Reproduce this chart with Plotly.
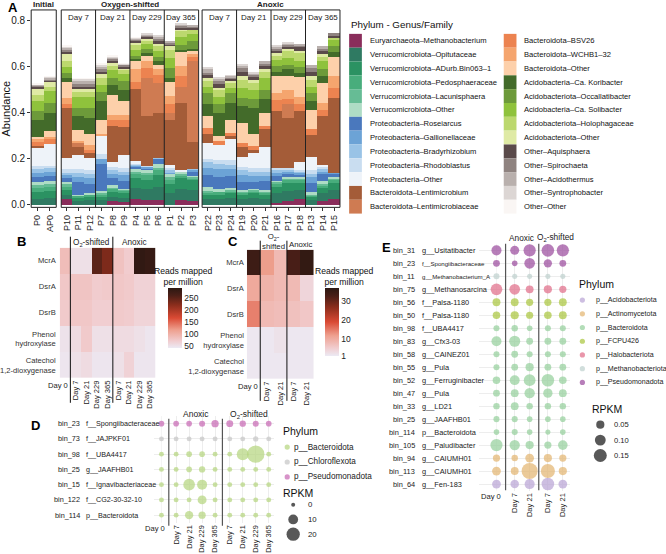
import math
import plotly.graph_objects as go

W, H = 666, 554
FONT = "Liberation Sans"

# ---------------- Panel A data ----------------
samples_initial = ["P0", "AP0"]
samples_oxic = ["P10", "P11", "P12", "P7", "P8", "P9", "P4", "P5", "P6", "P1", "P2", "P3"]
samples_anoxic = ["P22", "P23", "P24", "P19", "P20", "P21", "P16", "P17", "P18", "P13", "P14", "P15"]
day_labels_a = ["Day 7", "Day 21", "Day 229", "Day 365"]

taxa = [
    "Euryarchaeota–Methanobacterium", "Verrucomicrobiota–Opitutaceae", "Verrucomicrobiota–ADurb.Bin063–1",
    "Verrucomicrobiota–Pedosphaeraceae", "Verrucomicrobiota–Lacunisphaera", "Verrucomicrobiota–Other",
    "Proteobacteria–Roseiarcus", "Proteobacteria–Gallionellaceae", "Proteobacteria–Bradyrhizobium",
    "Proteobacteria–Rhodoblastus", "Proteobacteria–Other", "Bacteroidota–Lentimicrobium",
    "Bacteroidota–Lentimicrobiaceae", "Bacteroidota–BSV26", "Bacteroidota–WCHB1–32", "Bacteroidota–Other",
    "Acidobacteria–Ca. Koribacter", "Acidobacteriota–Occallatibacter", "Acidobacteria–Ca. Solibacter",
    "Acidobacteriota–Holophagaceae", "Acidobacteriota–Other", "Other–Aquisphaera", "Other–Spirochaeta",
    "Other–Acidothermus", "Other–Syntrophobacter", "Other–Other",
]
taxa_colors = [
    "#8a2d5b", "#2f7a62", "#2b9262", "#48ad7c", "#66bc95", "#aedcc5",
    "#4a78bd", "#6ca3d6", "#99c3e6", "#c9ddf0", "#eef3f9", "#a45c38",
    "#cf7b52", "#ec8350", "#f5a56e", "#fdd0aa",
    "#436b2a", "#6d9a3a", "#8fc23c", "#bcd86e", "#dfeaa5",
    "#5a4a4a", "#8f8380", "#b9b0ad", "#dcd6d4", "#faf6f4",
]

# order: P0 AP0 | P10 P11 P12 P7 P8 P9 P4 P5 P6 P1 P2 P3 | P22 P23 P24 P19 P20 P21 P16 P17 P18 P13 P14 P15
methanobacterium = [0, 0, .025, 0, 0, 0, .015, .012, .025, .02, .02, 0, .02, .017, 0, 0, 0, 0, 0, 0, .01, .015, .025, 0, .015, .025]
opitutaceae = [.025, .03, .02, .015, .02, .02, .02, .02, .05, .05, .06, .05, .05, .05, .025, .025, .03, .025, .03, .025, .04, .045, .04, .02, .035, .04]
adurb_bin063 = [.03, .03, .02, .015, .015, .015, .02, .02, .04, .04, .05, .04, .045, .04, .02, .02, .02, .02, .02, .02, .03, .035, .03, .015, .025, .03]
pedosphaeraceae = [.02, .02, .015, .01, .01, .01, .015, .01, .02, .02, .02, .02, .015, .01, .01, .01, .01, .01, .01, .01, .015, .015, .015, .005, .01, .015]
lacunisphaera = [.01, .01, .01, 0, 0, .005, .005, .003, .01, .01, .01, .01, .005, .005, .005, 0, .005, .005, .005, .005, .005, .005, .005, .005, .005, .005]
verruco_other = [.015, .015, .01, .005, .005, .01, .01, .005, .01, .015, .02, .015, .01, .005, .02, .015, .01, .005, .005, .005, .005, .005, .005, .01, .015, .005]
roseiarcus = [.02, .02, .015, .055, .04, .12, .03, .035, .01, .005, .02, 0, 0, .02, .05, .05, .05, .035, .03, .04, .02, .015, .01, .04, .03, .015]
gallionellaceae = [.02, .02, .015, .02, .025, .02, .02, .025, .005, .005, .003, .005, 0, .005, .03, .035, .03, .03, .025, .02, .015, .01, .01, .025, .01, .005]
bradyrhizobium = [.015, .015, .01, .02, .02, 0, .015, .015, .005, .003, .002, .01, 0, .003, .025, .025, .02, .02, .02, .02, .01, .01, .005, .015, .01, 0]
rhodoblastus = [.015, .01, .015, .015, .015, .02, .015, .015, .005, .002, 0, .01, 0, 0, .015, .015, .02, .015, .015, .015, .01, .005, .005, .015, .01, 0]
proteo_other = [.08, .095, .05, .06, .055, .08, .02, .055, .01, 0, 0, .015, .005, 0, .07, .065, .09, .045, .065, .09, 0, 0, .035, .06, .01, 0]
lentimicrobium = [.005, 0, .215, .035, .02, 0, .16, .125, .315, .215, .195, .195, .295, .12, .04, 0, .015, .04, .015, .08, .25, .22, .225, .095, .21, .325]
lentimicrobiaceae = [0, 0, 0, .02, 0, 0, 0, 0, 0, .165, .13, .03, .07, .35, 0, 0, 0, 0, 0, 0, 0, .06, 0, 0, 0, 0]
bsv26 = [.02, .02, .02, 0, .015, 0, .025, .03, .03, .045, .035, .04, .045, .02, .025, .02, .015, .02, .015, .015, .045, .02, .03, .025, .03, .045]
wchb1_32 = [.01, .01, .025, .01, .02, .01, .02, .02, .055, .03, .025, .035, .045, .01, 0, 0, 0, 0, 0, 0, .03, .04, .03, 0, .03, .05]
bacteroidota_other = [.01, .025, .07, .045, .05, .06, .09, .06, .035, .025, .02, .06, .06, .015, .05, .02, .055, .085, .055, .055, .075, .06, .085, .085, .085, .085]
koribacter = [.075, .08, .015, .06, .07, .08, .04, .05, .01, .01, .015, .015, .01, .01, .055, .10, .075, .075, .11, .06, .02, .03, .02, .035, .03, .02]
occallatibacter = [.04, .045, .025, .035, .04, .04, .03, .04, .015, .02, .02, .045, .02, .035, .045, .04, .04, .035, .04, .04, .025, .02, .025, .035, .03, .025]
solibacter = [.04, .05, .025, .05, .05, .03, .035, .03, .025, .02, .025, .045, .035, .03, .03, .03, .025, .045, .04, .05, .025, .03, .025, .03, .035, .03]
holophagaceae = [.03, .02, .025, .02, .02, .03, .02, .015, .02, .015, .02, .035, .025, .015, .022, .03, .02, .035, .03, .03, .02, .03, .035, .03, .02, .005]
acido_other = [.025, .02, .03, .015, .015, .02, .015, .01, .01, .01, .01, .015, .01, 0, .013, .01, .01, .015, .015, .01, .01, .01, .01, .015, .01, 0]
aquisphaera = [.008, .005, .01, .012, .012, .01, .008, .008, .01, .008, .015, .01, .008, .01, .015, .018, .01, .02, .012, .015, .01, .01, .015, .02, .015, .01]
spirochaeta = [.006, .005, .01, .008, .008, .01, .008, .006, .005, .006, .01, .006, .008, .008, .01, .012, .006, .015, .01, .012, .01, .008, .01, .015, .012, .015]
acidothermus = [.004, .008, .008, .015, .015, .01, .006, .004, .005, .004, .007, .004, .006, .002, .015, .01, .006, .01, .006, .008, .008, .006, .005, .013, .008, 0]
syntrophobacter = [.003, .005, .007, .008, .008, .01, .004, .002, .003, .002, .003, 0, .003, 0, .01, .005, .003, .005, .002, 0, .007, .002, 0, 0, 0, 0]
other_other = [.003, .002, .005, .002, .002, .005, .002, .002, .002, 0, 0, 0, 0, 0, 0, 0, 0, 0, 0, 0, 0, 0, 0, 0, 0, 0]

taxa_values = [
    methanobacterium, opitutaceae, adurb_bin063, pedosphaeraceae, lacunisphaera, verruco_other,
    roseiarcus, gallionellaceae, bradyrhizobium, rhodoblastus, proteo_other, lentimicrobium,
    lentimicrobiaceae, bsv26, wchb1_32, bacteroidota_other, koribacter, occallatibacter, solibacter,
    holophagaceae, acido_other, aquisphaera, spirochaeta, acidothermus, syntrophobacter, other_other,
]

# ---------------- Panel B / C data ----------------
genes = ["McrA", "DsrA", "DsrB", "Phenol<br>hydroxylase", "Catechol<br>1,2-dioxygenase"]
days_b = ["Day 0", "Day 7", "Day 21", "Day 229", "Day 365", "Day 7", "Day 21", "Day 229", "Day 365"]
reads_b = [
    [85, 50, 50, 250, 228, 80, 70, 285, 280],
    [75, 78, 78, 70, 72, 75, 72, 64, 64],
    [72, 75, 75, 68, 68, 72, 70, 62, 62],
    [48, 55, 72, 50, 50, 55, 55, 50, 45],
    [45, 50, 55, 45, 45, 50, 64, 45, 45],
]
days_c = ["Day 0", "Day 7", "Day 21", "Day 7", "Day 21"]
reads_c = [
    [34.5, 12, 8, 33, 36],
    [10.5, 9, 8, 8, 4],
    [14.5, 8, 7.5, 7, 6],
    [1.5, 1.5, 2.2, 1.5, 1.5],
    [1.5, 1.5, 1.5, 1.5, 1.5],
]
heat_scale = [[0, "#eceaf4"], [0.12, "#f1ccce"], [0.3, "#eea08f"], [0.5, "#da4a34"],
              [0.72, "#8a2d1c"], [0.88, "#4a1f17"], [1, "#2c1812"]]

# ---------------- Panel D data ----------------
bins_d = ["bin_23", "bin_73", "bin_98", "bin_25", "bin_15", "bin_122", "bin_114"]
taxon_d = ["f__Spongiibacteraceae", "f__JAJPKF01", "f__UBA4417", "g__JAAFHB01",
           "f__Ignavibacteriaceae", "f__CG2-30-32-10", "p__Bacteroidota"]
phylum_d = ["p__Pseudomonadota", "p__Chloroflexota", "p__Bacteroidota", "p__Bacteroidota",
            "p__Bacteroidota", "p__Bacteroidota", "p__Bacteroidota"]
phyla_d = ["p__Bacteroidota", "p__Chloroflexota", "p__Pseudomonadota"]
phyla_d_colors = ["#b3d47c", "#c4c4c4", "#c665b2"]
days_d = ["Day 0", "Day 7", "Day 21", "Day 229", "Day 365", "Day 7", "Day 21", "Day 229", "Day 365"]
rpkm_d = [
    [2, 2, 2, 2.5, 4.7, 4, 3, 2.5, 2],
    [1, 1, 1, 1, 1, 1, 1, 1.5, 1],
    [1, 1, 2, 2, 1, 1, 16, 36, 1],
    [1, 1, 2, 3, 1, 1, 1, 1, 1],
    [1, 1, 15, 10.5, 1, 1, 1, 1, 1],
    [1, 1, 1, 8, 1, 1, 1, 1, 1],
    [1, 1, 6.6, 4.5, 1, 1, 1, 1, 1],
]
rpkm_d_legend = [0, 10, 20]

# ---------------- Panel E data ----------------
bins_e = ["bin_31", "bin_23", "bin_11", "bin_75", "bin_56", "bin_50", "bin_98", "bin_83", "bin_58", "bin_55",
          "bin_52", "bin_47", "bin_33", "bin_25", "bin_114", "bin_105", "bin_94", "bin_113", "bin_64"]
taxon_e = ["g__Usitatibacter", "f__Spongiibacteraceae", "g__Methanobacterium_A", "g__Methanosarcina",
           "f__Palsa-1180", "f__Palsa-1180", "f__UBA4417", "g__Cfx3-03", "g__CAINEZ01", "g__Pula",
           "g__Ferruginibacter", "g__Pula", "g__LD21", "g__JAAFHB01", "p__Bacteroidota", "g__Paludibacter",
           "g__CAIUMH01", "g__CAIUMH01", "g__Fen-183"]
phylum_e = ["p__Pseudomonadota", "p__Pseudomonadota", "p__Methanobacteriota", "p__Halobacteriota",
            "p__FCPU426", "p__FCPU426", "p__Bacteroidota", "p__Bacteroidota", "p__Bacteroidota",
            "p__Bacteroidota", "p__Bacteroidota", "p__Bacteroidota", "p__Bacteroidota", "p__Bacteroidota",
            "p__Bacteroidota", "p__Bacteroidota", "p__Actinomycetota", "p__Actinomycetota", "p__Acidobacteriota"]
phyla_e = ["p__Acidobacteriota", "p__Actinomycetota", "p__Bacteroidota", "p__FCPU426",
           "p__Halobacteriota", "p__Methanobacteriota", "p__Pseudomonadota"]
phyla_e_colors = ["#b8a2d4", "#e2b46e", "#93cf9a", "#a8c43a", "#df6a86", "#bdd0cd", "#99479b"]
days_e = ["Day 0", "Day 7", "Day 21", "Day 7", "Day 21"]
rpkm_e = [
    [0.083, 0.064, 0.13, 0.14, 0.13],
    [0.03, 0.015, 0.096, 0.052, 0.03],
    [0.02, 0.01, 0.01, 0.01, 0.01],
    [0.118, 0.096, 0.045, 0.05, 0.035],
    [0.045, 0.045, 0.035, 0.035, 0.045],
    [0.04, 0.05, 0.035, 0.04, 0.045],
    [0.02, 0.025, 0.015, 0.02, 0.02],
    [0.083, 0.105, 0.03, 0.03, 0.03],
    [0.02, 0.03, 0.02, 0.02, 0.02],
    [0.02, 0.03, 0.05, 0.03, 0.03],
    [0.04, 0.08, 0.12, 0.14, 0.04],
    [0.03, 0.045, 0.09, 0.07, 0.045],
    [0.025, 0.045, 0.025, 0.025, 0.025],
    [0.02, 0.02, 0.015, 0.015, 0.015],
    [0.015, 0.02, 0.015, 0.01, 0.015],
    [0.13, 0.09, 0.05, 0.035, 0.075],
    [0.035, 0.025, 0.06, 0.05, 0.035],
    [0.06, 0.045, 0.24, 0.18, 0.05],
    [0.06, 0.055, 0.085, 0.14, 0.06],
]
rpkm_e_legend = [0.05, 0.10, 0.15]


# ---------------- helpers ----------------
def fx(px):
    return px / W


def fy(py):
    return 1 - py / H


def size_d(v):
    return math.sqrt(16 + 8.0 * v)


def size_e(v):
    return math.sqrt(16 + 1020.0 * v)


annotations = []
shapes = []


def ann(text, x, y, size=8, xanchor="center", yanchor="middle", bold=False, color="#222",
        xref="paper", yref="paper", angle=0):
    """x / y are pixels when the reference is 'paper', otherwise data values."""
    if xref == "paper":
        x = fx(x)
    if yref == "paper":
        y = fy(y)
    annotations.append(dict(
        text=("<b>%s</b>" % text) if bold else text, x=x, y=y, xref=xref, yref=yref,
        xanchor=xanchor, yanchor=yanchor, showarrow=False, textangle=angle,
        font=dict(family=FONT, size=size, color=color)))


fig = go.Figure()

# ---------------- Panel A ----------------
groups = [("x", "xaxis", samples_initial, 0, (28.3, 53.5)),
          ("x2", "xaxis2", samples_oxic, 2, (58.5, 196.5)),
          ("x3", "xaxis3", samples_anoxic, 14, (200.0, 338.5))]
for vals, col, name in zip(taxa_values, taxa_colors, taxa):
    for xa, _, smp, off, _ in groups:
        fig.add_trace(go.Bar(x=smp, y=vals[off:off + len(smp)], xaxis=xa, yaxis="y",
                             marker=dict(color=col, line=dict(width=0)), name=name,
                             showlegend=False, hoverinfo="skip"))

axA = dict(type="category", tickangle=-90, ticks="outside", ticklen=3, tickcolor="#333",
           tickfont=dict(family=FONT, size=9, color="#222"), showgrid=False, zeroline=False,
           anchor="y", showline=False)
layout_axes = {}
for xa, key, smp, off, (p0, p1) in groups:
    layout_axes[key] = dict(axA, domain=[fx(p0), fx(p1)], range=[-0.5, len(smp) - 0.5],
                            categoryorder="array", categoryarray=smp)
    shapes.append(dict(type="rect", xref="%s domain" % xa, yref="y domain", x0=0, x1=1, y0=0, y1=1,
                       line=dict(color="#222", width=1), fillcolor="rgba(0,0,0,0)", layer="above"))

layout_axes["yaxis"] = dict(domain=[fy(208.5), fy(10)], range=[-0.011, 0.848], anchor="x",
                            tickvals=[0, 0.2, 0.4, 0.6, 0.8], ticktext=["0.0", "0.2", "0.4", "0.6", "0.8"],
                            ticks="outside", ticklen=3, tickcolor="#333", showgrid=False, zeroline=False,
                            tickfont=dict(family=FONT, size=10, color="#222"),
                            title=dict(text="Abundance", font=dict(family=FONT, size=11, color="#111"),
                                       standoff=3))

for xa in ("x2", "x3"):
    for b in (2.5, 5.5, 8.5):
        shapes.append(dict(type="line", xref=xa, yref="y domain", x0=b, x1=b, y0=0, y1=1,
                           line=dict(color="#222", width=1), layer="above"))
    for i, d in enumerate(day_labels_a):
        ann(d, 1 + 3 * i, 18, size=8, xref=xa)

ann("A", 3, 8, size=13, xanchor="left", bold=True, color="#000")
ann("Initial", 40.9, 5, size=8, bold=True)
ann("Oxygen-shifted", 127.5, 5, size=8, bold=True)
ann("Anoxic", 269.2, 5, size=8, bold=True)

# legend for A
ann("Phylum - Genus/Family", 347.5, 25, size=9.8, xanchor="left", color="#111")
row_h = 13.9
for i, (name, col) in enumerate(zip(taxa, taxa_colors)):
    colm = 0 if i < 13 else 1
    r = i if i < 13 else i - 13
    cy = 41 + r * row_h
    sx0 = 347.7 if colm == 0 else 503.0
    shapes.append(dict(type="rect", xref="paper", yref="paper", x0=fx(sx0), x1=fx(sx0 + 12.8),
                       y0=fy(cy - row_h / 2), y1=fy(cy + row_h / 2), fillcolor=col, line=dict(width=0)))
    ann(name, sx0 + 18.5, cy, size=7.6, xanchor="left", color="#111")

# ---------------- Panel B ----------------
fig.add_trace(go.Heatmap(z=reads_b, x=list(range(len(days_b))), y=list(range(len(genes))),
                         xaxis="x4", yaxis="y4", colorscale=heat_scale, zmin=40, zmax=290,
                         hoverinfo="skip",
                         colorbar=dict(x=fx(166), xanchor="left", xpad=0, ypad=0, y=fy(320), yanchor="middle",
                                       thickness=14, len=60, lenmode="pixels", outlinewidth=0, ticks="",
                                       tickvals=[50, 100, 150, 200, 250],
                                       tickfont=dict(family=FONT, size=8.5, color="#222"))))
layout_axes["xaxis4"] = dict(domain=[fx(57), fx(153)], range=[-0.5, 8.5], anchor="y4",
                             tickvals=list(range(1, 9)), ticktext=days_b[1:], tickangle=-90, ticks="",
                             tickfont=dict(family=FONT, size=7.6, color="#222"), showgrid=False, zeroline=False)
layout_axes["yaxis4"] = dict(domain=[fy(380), fy(249)], range=[4.5, -0.5], anchor="x4",
                             tickvals=list(range(5)), ticktext=genes, ticks="", ticklabelstandoff=3,
                             tickfont=dict(family=FONT, size=7.6, color="#333"), showgrid=False, zeroline=False)
for b in (0.5, 4.5):
    shapes.append(dict(type="line", xref="x4", yref="paper", x0=b, x1=b, y0=fy(238), y1=fy(405),
                       line=dict(color="#111", width=1)))
ann("Day 0", 0.45, 387.5, size=7.6, xanchor="right", xref="x4")
ann("B", 12, 243, size=13, xanchor="left", bold=True, color="#000")
ann("O<sub>2</sub>-shifted", 2.5, 244, size=8.2, xref="x4")
ann("Anoxic", 6.5, 244, size=8.2, xref="x4")
ann("Reads mapped<br>per million", 181, 278.5, size=8.6, color="#111")

# ---------------- Panel C ----------------
fig.add_trace(go.Heatmap(z=reads_c, x=list(range(len(days_c))), y=list(range(len(genes))),
                         xaxis="x5", yaxis="y5", colorscale=heat_scale, zmin=1, zmax=37,
                         hoverinfo="skip",
                         colorbar=dict(x=fx(323), xanchor="left", xpad=0, ypad=0, y=fy(324), yanchor="middle",
                                       thickness=14, len=68, lenmode="pixels", outlinewidth=0, ticks="",
                                       tickvals=[1, 10, 20, 30],
                                       tickfont=dict(family=FONT, size=8.5, color="#222"))))
layout_axes["xaxis5"] = dict(domain=[fx(245), fx(312)], range=[-0.5, 4.5], anchor="y5",
                             tickvals=list(range(1, 5)), ticktext=days_c[1:], tickangle=-90, ticks="",
                             tickfont=dict(family=FONT, size=7.6, color="#222"), showgrid=False, zeroline=False)
layout_axes["yaxis5"] = dict(domain=[fy(381), fy(251)], range=[4.5, -0.5], anchor="x5",
                             tickvals=list(range(5)), ticktext=genes, ticks="", ticklabelstandoff=2,
                             tickfont=dict(family=FONT, size=7.6, color="#333"), showgrid=False, zeroline=False)
for b in (0.5, 2.5):
    shapes.append(dict(type="line", xref="x5", yref="paper", x0=b, x1=b, y0=fy(242), y1=fy(403),
                       line=dict(color="#111", width=1)))
ann("Day 0", 0.45, 388.5, size=7.6, xanchor="right", xref="x5")
ann("C", 224, 243, size=13, xanchor="left", bold=True, color="#000")
ann("O<sub>2</sub>-<br>shifted", 1.5, 243, size=7.8, xref="x5")
ann("Anoxic", 3.55, 246, size=7.8, xref="x5")
ann("Reads mapped<br>per million", 343, 278.5, size=8.6, color="#111")

# ---------------- Panel D ----------------
pos_d = [0] + [1.13 + i for i in range(4)] + [5.26 + i for i in range(4)]
for ph, col in zip(phyla_d, phyla_d_colors):
    xs, ys, ss = [], [], []
    for r, p in enumerate(phylum_d):
        if p != ph:
            continue
        for c, v in enumerate(rpkm_d[r]):
            xs.append(pos_d[c]); ys.append(r); ss.append(size_d(v))
    fig.add_trace(go.Scatter(x=xs, y=ys, mode="markers", xaxis="x6", yaxis="y6", showlegend=False,
                             hoverinfo="skip", marker=dict(color=col, size=ss, line=dict(width=0))))
grid_c = "#ededed"
layout_axes["xaxis6"] = dict(domain=[fx(152), fx(272)], range=[-0.55, 8.65], anchor="y6",
                             tickvals=pos_d[1:], ticktext=days_d[1:], tickangle=-90, ticks="",
                             tickfont=dict(family=FONT, size=7.4, color="#222"), showgrid=True,
                             gridcolor=grid_c, gridwidth=0.6, zeroline=False)
layout_axes["yaxis6"] = dict(domain=[fy(525.6), fy(418.3)], range=[6.5, -0.5], anchor="x6",
                             tickvals=list(range(len(bins_d))), showticklabels=False, ticks="",
                             showgrid=True, gridcolor=grid_c, gridwidth=0.6, zeroline=False)
shapes.append(dict(type="line", xref="x6", yref="y6 domain", x0=pos_d[0], x1=pos_d[0], y0=0, y1=1,
                   line=dict(color=grid_c, width=0.6), layer="below"))
for r, (b, t) in enumerate(zip(bins_d, taxon_d)):
    ann(b, 79.5, r, size=7.3, xanchor="right", yref="y6")
    ann(t, 81.5, r, size=7.2, xanchor="left", yref="y6")
for b in (0.565, 4.695):
    shapes.append(dict(type="line", xref="x6", yref="paper", x0=b, x1=b, y0=fy(421), y1=fy(528.5),
                       line=dict(color="#555", width=1.2)))
ann("Day 0", 0.45, 531, size=7.6, xanchor="right", xref="x6")
ann("D", 26, 428, size=13, xanchor="left", bold=True, color="#000")
ann("Anoxic", 2.63, 416.5, size=8.5, xref="x6")
ann("O<sub>2</sub>-shifted", 6.76, 416.5, size=8.5, xref="x6")

# ---------------- Panel E ----------------
pos_e = [0, 1.22, 2.22, 3.44, 4.44]
for ph, col in zip(phyla_e, phyla_e_colors):
    xs, ys, ss = [], [], []
    for r, p in enumerate(phylum_e):
        if p != ph:
            continue
        for c, v in enumerate(rpkm_e[r]):
            xs.append(pos_e[c]); ys.append(r); ss.append(size_e(v))
    fig.add_trace(go.Scatter(x=xs, y=ys, mode="markers", xaxis="x7", yaxis="y7", showlegend=False,
                             hoverinfo="skip", marker=dict(color=col, size=ss, line=dict(width=0))))
layout_axes["xaxis7"] = dict(domain=[fx(478), fx(570)], range=[-1.18, 4.95], anchor="y7",
                             tickvals=pos_e[1:], ticktext=days_e[1:], tickangle=-90, ticks="",
                             tickfont=dict(family=FONT, size=7.6, color="#222"), showgrid=True,
                             gridcolor=grid_c, gridwidth=0.6, zeroline=False)
layout_axes["yaxis7"] = dict(domain=[fy(493.2), fy(245.2)], range=[18.5, -0.5], anchor="x7",
                             tickvals=list(range(len(bins_e))), showticklabels=False, ticks="",
                             showgrid=True, gridcolor=grid_c, gridwidth=0.6, zeroline=False)
shapes.append(dict(type="line", xref="x7", yref="y7 domain", x0=pos_e[0], x1=pos_e[0], y0=0, y1=1,
                   line=dict(color=grid_c, width=0.6), layer="below"))
for r, (b, t) in enumerate(zip(bins_e, taxon_e)):
    ann(b, 416, r, size=7.4, xanchor="right", yref="y7")
    ann(t, 419, r, size=(6.1 if len(t) > 19 else 7.4), xanchor="left", yref="y7")
for b in (0.61, 2.83):
    shapes.append(dict(type="line", xref="x7", yref="paper", x0=b, x1=b, y0=fy(245), y1=fy(493),
                       line=dict(color="#555", width=1.2)))
ann("Day 0", 0.45, 499.5, size=7.6, xanchor="right", xref="x7")
ann("E", 379, 249, size=13, xanchor="left", bold=True, color="#000")
ann("Anoxic", 1.68, 239, size=8.3, xref="x7")
ann("O<sub>2</sub>-shifted", 3.98, 239, size=8.3, xref="x7")

# ---------------- legends for D and E (pixel overlay axis) ----------------
leg_x, leg_y, leg_c, leg_s = [], [], [], []
ann("Phylum", 279, 433, size=10.5, xanchor="left", color="#111")
for i, (ph, col) in enumerate(zip(phyla_d, phyla_d_colors)):
    yy = 449.5 + i * 15
    leg_x.append(285.5); leg_y.append(yy); leg_c.append(col); leg_s.append(5.2)
    ann(ph, 290, yy, size=8.2, xanchor="left", color="#222")
ann("RPKM", 279, 495.5, size=10.5, xanchor="left", color="#111")
for i, v in enumerate(rpkm_d_legend):
    yy = 507.5 + i * 14.8
    leg_x.append(291.5); leg_y.append(yy); leg_c.append("#111"); leg_s.append(size_d(v))
    ann("%d" % v, 304, yy, size=7.8, xanchor="left", color="#222")

ann("Phylum", 576.5, 286, size=10.5, xanchor="left", color="#111")
for i, (ph, col) in enumerate(zip(phyla_e, phyla_e_colors)):
    yy = 301.7 + i * 13.8
    leg_x.append(582); leg_y.append(yy); leg_c.append(col); leg_s.append(5.2)
    ann(ph, 594, yy, size=7.1, xanchor="left", color="#222")
ann("RPKM", 589.5, 411.5, size=10.5, xanchor="left", color="#111")
for i, v in enumerate(rpkm_e_legend):
    yy = 427 + i * 15.5
    leg_x.append(600); leg_y.append(yy); leg_c.append("#111"); leg_s.append(size_e(v))
    ann("%.2f" % v, 612, yy, size=7.6, xanchor="left", color="#222")

fig.add_trace(go.Scatter(x=leg_x, y=leg_y, mode="markers", xaxis="x8", yaxis="y8", showlegend=False,
                         hoverinfo="skip", marker=dict(color=leg_c, size=leg_s, line=dict(width=0))))
layout_axes["xaxis8"] = dict(domain=[0, 1], range=[0, W], visible=False, anchor="y8", fixedrange=True)
layout_axes["yaxis8"] = dict(domain=[0, 1], range=[H, 0], visible=False, anchor="x8", fixedrange=True)

fig.update_layout(
    width=W, height=H, margin=dict(l=0, r=0, t=0, b=0, pad=0),
    paper_bgcolor="white", plot_bgcolor="rgba(0,0,0,0)",
    barmode="stack", bargap=0, showlegend=False,
    font=dict(family=FONT, size=9, color="#222"),
    annotations=annotations, shapes=shapes, **layout_axes,
)

fig.write_html("out.html", config={"displayModeBar": False},
               post_script="document.body.style.margin='0';document.body.style.padding='0';")
